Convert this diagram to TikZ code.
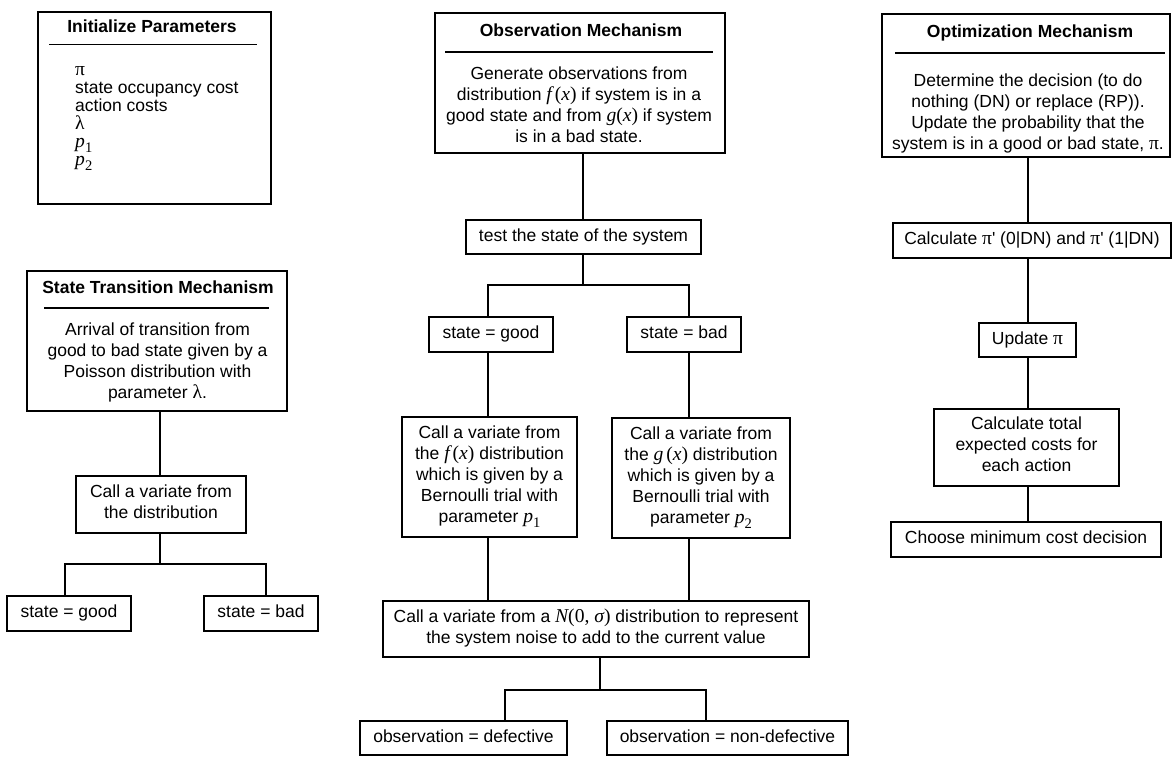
\documentclass[tikz,border=0pt]{standalone}
\usepackage{fontspec}
\setmainfont{Liberation Sans}
\newfontfamily\tms[Scale=1.12]{Liberation Serif}
% serif symbols: italic variables and upright Greek letters
\newcommand{\ivar}[1]{{\tms\itshape #1}}
\newcommand{\rvar}[1]{{\tms #1}}
\newcommand{\fofx}{\ivar{f}\,\rvar{(}\ivar{x}\rvar{)}}
\newcommand{\psub}[1]{\ivar{p}\raisebox{-0.28em}{\fontsize{13}{13}\selectfont\rvar{#1}}}
\begin{document}
\begin{tikzpicture}[x=1pt,y=-1pt,
  every node/.style={inner sep=0pt, align=center,
    font=\fontsize{17.5}{21}\selectfont,
    execute at begin node=\strut, execute at end node=\strut},
  box/.style={draw, line width=1.5pt},
  wire/.style={line width=1.3pt},
  rule/.style={line width=1.3pt},
  heading/.style={font=\fontsize{17.5}{21}\selectfont\bfseries}]
\useasboundingbox (0,0) rectangle (1172,756);

% ---------------- Initialize Parameters ----------------
\node[box, minimum width=233pt, minimum height=192pt] (init) at (154.5,108) {};
\node[heading] (initT) at (152,28) {Initialize Parameters};
\draw[rule] (49,44.5) -- (257,44.5);
\node[anchor=west, align=left, font=\fontsize{17.5}{18}\selectfont] (initL) at (75,119)
  {\rvar{π}\\ state occupancy cost\\ action costs\\ \rvar{λ}\\
   \psub{1}\\ \psub{2}};

% ---------------- Observation Mechanism ----------------
\node[box, minimum width=290pt, minimum height=140pt] (obs) at (580,83) {};
\node[heading] (obsT) at (581,32) {Observation Mechanism};
\draw[rule] (445,52) -- (713,52);
\node (obsB) at (579,107.5) {Generate observations from\\
  distribution \fofx{} if system is in a\\
  good state and from \ivar{g}\rvar{(}\ivar{x}\rvar{)} if system\\
  is in a bad state.};

\node[box, minimum width=235pt, minimum height=34pt] (test) at (583.5,237) {test the state of the system};
\node[box, minimum width=124pt, minimum height=35pt] (goodM) at (491,334.5) {state = good};
\node[box, minimum width=114pt, minimum height=35pt] (badM) at (684,334.5) {state = bad};
\node[box, minimum width=175pt, minimum height=120pt] (varL) at (489.5,477) {Call a variate from\\
  the \fofx{} distribution\\ which is given by a\\ Bernoulli trial with\\
  parameter \psub{1}};
\node[box, minimum width=178pt, minimum height=120pt] (varR) at (701,478) {Call a variate from\\
  the \ivar{g}\,\rvar{(}\ivar{x}\rvar{)} distribution\\ which is given by a\\ Bernoulli trial with\\
  parameter \psub{2}};
\node[box, minimum width=426pt, minimum height=56pt] (noise) at (596,629)
  {Call a variate from a \ivar{N}\rvar{(0, }\ivar{σ}\rvar{)} distribution to represent\\
   the system noise to add to the current value};
\node[box, minimum width=207pt, minimum height=34pt] (defect) at (463.5,738) {observation = defective};
\node[box, minimum width=241pt, minimum height=34pt] (nondef) at (727.5,738) {observation = non-defective};

% ---------------- Optimization Mechanism ----------------
\node[box, minimum width=288pt, minimum height=143pt] (opt) at (1026,85.5) {};
\node[heading] (optT) at (1030,33) {Optimization Mechanism};
\draw[rule] (895,53) -- (1165,53);
\node (optB) at (1028,115) {Determine the decision (to do\\
  nothing (DN) or replace (RP)).\\
  Update the probability that the\\
  system is in a good or bad state, \rvar{π}.};
\node[box, minimum width=278pt, minimum height=35pt] (calcpi) at (1032,240.5)
  {Calculate \rvar{π}\textquotesingle{} (0|DN) and \rvar{π}\textquotesingle{} (1|DN)};
\node[box, minimum width=97pt, minimum height=34pt] (upd) at (1027.5,340) {Update \rvar{π}};
\node[box, minimum width=185pt, minimum height=77pt] (total) at (1026.5,447.5)
  {Calculate total\\ expected costs for\\ each action};
\node[box, minimum width=270pt, minimum height=35pt] (choose) at (1026,539.5) {Choose minimum cost decision};

% ---------------- State Transition Mechanism ----------------
\node[box, minimum width=260pt, minimum height=140pt] (trans) at (157,341) {};
\node[heading] (transT) at (158,289) {State Transition Mechanism};
\draw[rule] (44,308) -- (269,308);
\node (transB) at (157.5,363.5) {Arrival of transition from\\
  good to bad state given by a\\ Poisson distribution with\\ parameter \rvar{λ}.};
\node[box, minimum width=170pt, minimum height=57pt] (callL) at (161,504.5) {Call a variate from\\ the distribution};
\node[box, minimum width=124pt, minimum height=35pt] (goodL) at (69,613.5) {state = good};
\node[box, minimum width=114pt, minimum height=35pt] (badL) at (261,613.5) {state = bad};

% ---------------- connectors ----------------
% middle column
\coordinate (xm) at (583,0);
\coordinate (jT) at (583,285);
\coordinate (xl) at (488,0);
\coordinate (xr) at (689,0);
\draw[wire] (obs.south -| xm) -- (test.north -| xm);
\draw[wire] (test.south -| jT) -- (jT);
\draw[wire] (goodM.north -| xl) |- (jT) -| (badM.north -| xr);
\draw[wire] (goodM.south -| xl) -- (varL.north -| xl);
\draw[wire] (badM.south -| xr) -- (varR.north -| xr);
\draw[wire] (varL.south -| xl) -- (noise.north -| xl);
\draw[wire] (varR.south -| xr) -- (noise.north -| xr);
\coordinate (jN) at (600,690);
\coordinate (xd) at (505,0);
\coordinate (xn) at (706,0);
\draw[wire] (noise.south -| jN) -- (jN);
\draw[wire] (defect.north -| xd) |- (jN) -| (nondef.north -| xn);

% left column
\coordinate (xs) at (160,0);
\coordinate (jL) at (160,564);
\coordinate (xg) at (65,0);
\coordinate (xb) at (266,0);
\draw[wire] (trans.south -| xs) -- (callL.north -| xs);
\draw[wire] (callL.south -| jL) -- (jL);
\draw[wire] (goodL.north -| xg) |- (jL) -| (badL.north -| xb);

% right column
\coordinate (xo) at (1028,0);
\draw[wire] (opt.south -| xo) -- (calcpi.north -| xo);
\draw[wire] (calcpi.south -| xo) -- (upd.north -| xo);
\draw[wire] (upd.south -| xo) -- (total.north -| xo);
\draw[wire] (total.south -| xo) -- (choose.north -| xo);
\end{tikzpicture}
\end{document}
